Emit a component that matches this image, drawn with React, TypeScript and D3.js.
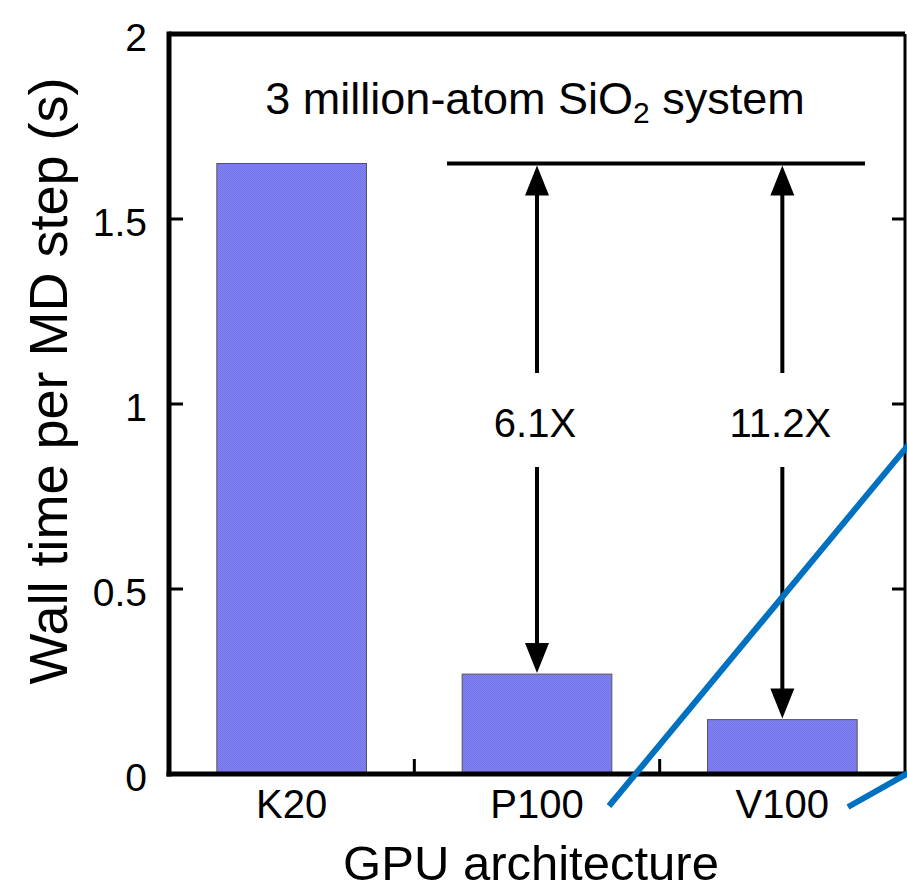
import React from "react";
import * as d3 from "d3";

const categories = ["K20", "P100", "V100"];
const wallTimes = [1.65, 0.27, 0.147];
const yTicks = [0, 0.5, 1, 1.5, 2];
const yTickLabels = ["0", "0.5", "1", "1.5", "2"];
const speedupLabels = ["", "6.1X", "11.2X"];
const titleText = "3 million-atom SiO";
const xTitle = "GPU architecture";
const yTitle = "Wall time per MD step (s)";

const W = 907;
const H = 892;
const FONT = "'Liberation Sans', Arial, Helvetica, sans-serif";

export default function App() {
  const left = 169;
  const right = 905;
  const top = 34;
  const bottom = 774;
  const y = d3.scaleLinear().domain([0, 2]).range([bottom, top]);
  const x = d3
    .scaleBand<string>()
    .domain(categories)
    .range([left, right])
    .paddingInner(0.39)
    .paddingOuter(0.195);
  const step = x.step();
  const refY = y(wallTimes[0]);
  const headW = 24;
  const headH = 30;

  const bandEdges = d3.range(1, categories.length).map((i) => left + step * i);

  return (
    <svg
      width={W}
      height={H}
      style={{ position: "absolute", left: 0, top: 0, background: "#fff" }}
      fontFamily={FONT}
    >
      <defs>
        <pattern id="chk" width={2} height={2} patternUnits="userSpaceOnUse">
          <rect width={2} height={2} fill="#8484f2" />
          <rect width={1} height={1} fill="#7272e8" />
          <rect x={1} y={1} width={1} height={1} fill="#7272e8" />
        </pattern>
      </defs>
      <rect width={W} height={H} fill="#fff" />

      {/* bars */}
      {categories.map((c, i) => (
        <rect
          key={c}
          x={x(c)}
          y={y(wallTimes[i])}
          width={x.bandwidth()}
          height={y(0) - y(wallTimes[i])}
          fill="url(#chk)"
          stroke="#555"
          strokeWidth={1}
        />
      ))}

      {/* frame */}
      <line x1={left} x2={right} y1={top} y2={top} stroke="#000" strokeWidth={5} />
      <line x1={right} x2={right} y1={top} y2={bottom} stroke="#000" strokeWidth={3} />
      <line x1={left} x2={left} y1={top - 2.5} y2={bottom + 2.5} stroke="#000" strokeWidth={5} />
      <line x1={left - 2.5} x2={right + 2} y1={bottom} y2={bottom} stroke="#000" strokeWidth={5} />

      {/* y ticks */}
      {yTicks.map((t, i) => (
        <g key={t}>
          {t > 0 && t < 2 && (
            <>
              <line x1={left} x2={left + 14} y1={y(t)} y2={y(t)} stroke="#000" strokeWidth={3} />
              <line x1={right - 13} x2={right} y1={y(t)} y2={y(t)} stroke="#000" strokeWidth={3} />
            </>
          )}
          <text
            x={147}
            y={y(t) + 7}
            textAnchor="end"
            fontSize={39}
            dominantBaseline="middle"
          >
            {yTickLabels[i]}
          </text>
        </g>
      ))}

      {/* x minor ticks */}
      {bandEdges.map((e) => (
        <line key={e} x1={e} x2={e} y1={bottom} y2={bottom - 15} stroke="#000" strokeWidth={3} />
      ))}

      {/* x tick labels */}
      {categories.map((c) => (
        <text
          key={c}
          x={(x(c) as number) + x.bandwidth() / 2}
          y={818}
          textAnchor="middle"
          fontSize={40}
        >
          {c}
        </text>
      ))}

      {/* title */}
      <text x={535} y={114} textAnchor="middle" fontSize={45}>
        {titleText}
        <tspan fontSize={30} dy={9}>2</tspan>
        <tspan dy={-9}> system</tspan>
      </text>

      {/* reference line */}
      <line x1={447} x2={865} y1={refY} y2={refY} stroke="#000" strokeWidth={4} />

      {/* speedup arrows */}
      {categories.slice(1).map((c, j) => {
        const i = j + 1;
        const cx = (x(c) as number) + x.bandwidth() / 2;
        const yTop = refY + 2;
        const yBot = y(wallTimes[i]) - 1;
        const labelY = 437;
        const gapTop = labelY - 64;
        const gapBot = labelY + 30;
        return (
          <g key={c}>
            <line x1={cx} x2={cx} y1={yTop + headH - 2} y2={gapTop} stroke="#000" strokeWidth={4} />
            <line x1={cx} x2={cx} y1={gapBot} y2={yBot - headH + 2} stroke="#000" strokeWidth={4} />
            <path
              d={`M${cx},${yTop} L${cx - headW / 2},${yTop + headH} L${cx + headW / 2},${yTop + headH} Z`}
              fill="#000"
            />
            <path
              d={`M${cx},${yBot} L${cx - headW / 2},${yBot - headH} L${cx + headW / 2},${yBot - headH} Z`}
              fill="#000"
            />
            <text x={cx - 2} y={labelY} textAnchor="middle" fontSize={40}>
              {speedupLabels[i]}
            </text>
          </g>
        );
      })}

      {/* axis titles */}
      <text x={531} y={880} textAnchor="middle" fontSize={49}>
        {xTitle}
      </text>
      <text
        transform={`translate(67, 381) rotate(-90)`}
        textAnchor="middle"
        fontSize={54}
      >
        {yTitle}
      </text>

      {/* blue annotation strokes */}
      <line x1={609} y1={806} x2={910} y2={443} stroke="#0070C0" strokeWidth={6} />
      <line x1={848} y1={807} x2={910} y2={772} stroke="#0070C0" strokeWidth={6} />
    </svg>
  );
}
